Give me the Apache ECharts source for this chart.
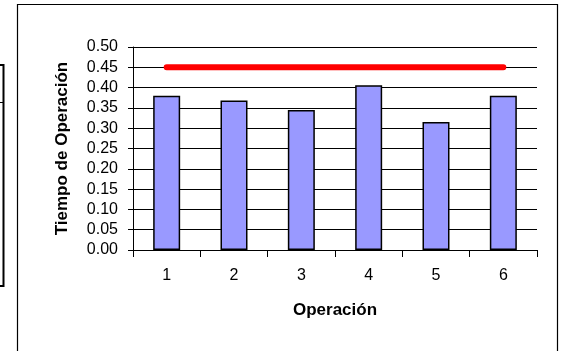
<!DOCTYPE html>
<html>
<head>
<meta charset="utf-8">
<script src="https://cdn.jsdelivr.net/npm/echarts@6/dist/echarts.min.js"></script>
<style>
  html, body { margin: 0; padding: 0; background: #fff; }
  #chart { width: 566px; height: 351px; }
</style>
</head>
<body>
<div id="chart"></div>
<script>
// Operation times per step, with the 0.45 reference limit
const operaciones = ['1', '2', '3', '4', '5', '6'];
const tiempos = [0.380, 0.368, 0.345, 0.406, 0.315, 0.380];
const limite = [0.45, 0.45, 0.45, 0.45, 0.45, 0.45];

const FONT = '"Liberation Sans", Arial, sans-serif';

const chart = echarts.init(document.getElementById('chart'), null, { renderer: 'canvas' });

chart.setOption({
  animation: false,
  backgroundColor: '#ffffff',
  grid: { left: 133, right: 29, top: 47, bottom: 101 },
  xAxis: {
    type: 'category',
    data: operaciones,
    boundaryGap: true,
    name: 'Operación',
    nameLocation: 'middle',
    nameGap: 52,
    nameTextStyle: { fontFamily: FONT, fontSize: 17, fontWeight: 'bold', color: '#000' },
    axisLine: { lineStyle: { color: '#000', width: 1 } },
    axisTick: { show: true, length: 7, lineStyle: { color: '#000' } },
    axisLabel: { fontFamily: FONT, fontSize: 16, color: '#000', margin: 18 },
    splitLine: { show: false }
  },
  yAxis: {
    type: 'value',
    min: 0,
    max: 0.5,
    interval: 0.05,
    name: 'Tiempo de Operación',
    nameLocation: 'middle',
    nameGap: 62,
    nameTextStyle: { fontFamily: FONT, fontSize: 17, fontWeight: 'bold', color: '#000' },
    axisLine: { show: true, lineStyle: { color: '#000', width: 1 } },
    axisTick: { show: true, length: 5, lineStyle: { color: '#000' } },
    axisLabel: {
      fontFamily: FONT, fontSize: 16, color: '#000', margin: 15,
      formatter: v => v.toFixed(2)
    },
    splitLine: { show: true, lineStyle: { color: '#000', width: 1 } }
  },
  series: [
    {
      type: 'bar',
      data: tiempos,
      barWidth: 27,
      itemStyle: { color: '#9999ff', borderColor: '#000', borderWidth: 1.5 }
    },
    {
      type: 'line',
      data: limite,
      symbol: 'none',
      lineStyle: { color: '#ff0000', width: 6, cap: 'round' },
      z: 5
    }
  ],
  graphic: [
    // chart frame
    {
      type: 'rect',
      shape: { x: 17.5, y: 4.5, width: 540, height: 360 },
      style: { fill: 'none', stroke: '#000', lineWidth: 1.2 },
      silent: true
    },
    // edge of the neighbouring frame on the left
    {
      type: 'polyline',
      shape: { points: [[0, 65], [3.5, 65], [3.5, 286], [0, 286]] },
      style: { fill: 'none', stroke: '#000', lineWidth: 2 },
      silent: true
    },
    {
      type: 'line',
      shape: { x1: 0, y1: 102.5, x2: 4, y2: 102.5 },
      style: { stroke: '#000', lineWidth: 1 },
      silent: true
    }
  ]
});
</script>
</body>
</html>
